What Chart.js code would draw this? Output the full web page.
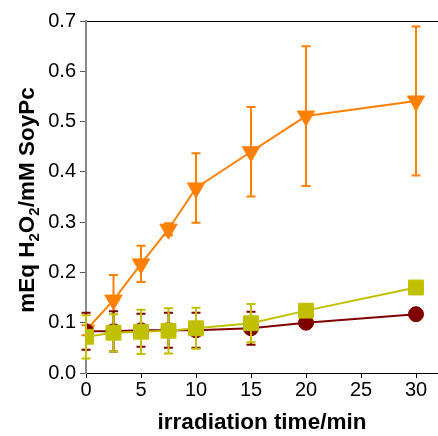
<!DOCTYPE html>
<html lang="en">
<head>
    <meta charset="UTF-8">
    <title>H2O2 vs irradiation time</title>
    <script src="https://cdn.jsdelivr.net/npm/chart.js@4.4.0/dist/chart.umd.min.js"></script>
    <style>
        html, body { margin: 0; padding: 0; background: #fff; }
        .chart-container { width: 438px; height: 436px; position: relative; }
    </style>
</head>
<body>
    <div class="chart-container">
        <canvas id="chart"></canvas>
    </div>

    <script>
        // Values
        const times = [0, 2.5, 5, 7.5, 10, 15, 20, 30];

        const orangeValues = [0.085, 0.145, 0.217, 0.286, 0.368, 0.440, 0.511, 0.541];
        const orangeErrors = [0.010, 0.050, 0.036, 0.012, 0.069, 0.089, 0.139, 0.148];

        const redValues = [0.083, 0.083, 0.085, 0.085, 0.085, 0.089, 0.100, 0.117];
        const redErrors = [0.037, 0.040, 0.033, 0.035, 0.035, 0.033, 0.010, 0.005];

        const yellowValues = [0.072, 0.080, 0.082, 0.084, 0.089, 0.099, 0.124, 0.170];
        const yellowErrors = [0.043, 0.037, 0.044, 0.045, 0.041, 0.038, 0.008, 0.010];

        const xTicks = [0, 5, 10, 15, 20, 25, 30];
        const yTicks = [0.0, 0.1, 0.2, 0.3, 0.4, 0.5, 0.6, 0.7];

        const toPoints = (vals) => vals.map((v, i) => ({ x: times[i], y: v }));

        const FONT = "'Liberation Sans', Arial, sans-serif";

        // draws error bars for a dataset just before the dataset itself
        const errorBars = {
            id: "errorBars",
            beforeDatasetDraw(chart, args) {
                const ds = chart.data.datasets[args.index];
                if (!ds.errors) return;
                const ctx = chart.ctx;
                const xs = chart.scales.x, ys = chart.scales.y;
                ctx.save();
                ctx.strokeStyle = ds.borderColor;
                ctx.lineWidth = 2;
                ds.data.forEach((p, i) => {
                    const e = ds.errors[i];
                    const px = xs.getPixelForValue(p.x);
                    const top = ys.getPixelForValue(p.y + e);
                    const bot = ys.getPixelForValue(p.y - e);
                    ctx.beginPath();
                    ctx.moveTo(px, top); ctx.lineTo(px, bot);
                    ctx.moveTo(px - 4.5, top); ctx.lineTo(px + 4.5, top);
                    ctx.moveTo(px - 4.5, bot); ctx.lineTo(px + 4.5, bot);
                    ctx.stroke();
                });
                ctx.restore();
            }
        };

        // y axis title with subscripts
        const yTitle = {
            id: "yTitle",
            afterDraw(chart) {
                const ctx = chart.ctx;
                const parts = [
                    ["mEq H", false], ["2", true], ["O", false], ["2", true], ["/mM SoyPc", false]
                ];
                const big = "bold 22.5px " + FONT;
                const small = "bold 15px " + FONT;
                ctx.save();
                let total = 0;
                parts.forEach(([t, sub]) => {
                    ctx.font = sub ? small : big;
                    total += ctx.measureText(t).width;
                });
                ctx.translate(28, 200);
                ctx.rotate(-Math.PI / 2);
                ctx.fillStyle = "#000";
                ctx.textBaseline = "middle";
                let x = -total / 2;
                parts.forEach(([t, sub]) => {
                    ctx.font = sub ? small : big;
                    ctx.fillText(t, x, sub ? 7 : 0);
                    x += ctx.measureText(t).width;
                });
                ctx.restore();
            }
        };

        const ctx = document.getElementById("chart").getContext("2d");

        new Chart(ctx, {
            type: "line",
            data: {
                datasets: [
                    {
                        label: "Sample C",
                        data: toPoints(yellowValues),
                        errors: yellowErrors,
                        borderColor: "#c0c000",
                        backgroundColor: "#c0c000",
                        borderWidth: 2,
                        pointStyle: "rect",
                        pointRadius: 10.5,
                        pointBorderWidth: 1,
                        order: 0
                    },
                    {
                        label: "Sample B",
                        data: toPoints(redValues),
                        errors: redErrors,
                        borderColor: "#800000",
                        backgroundColor: "#800000",
                        borderWidth: 2,
                        pointStyle: "circle",
                        pointRadius: 7.5,
                        pointBorderWidth: 1,
                        order: 1
                    },
                    {
                        label: "Sample A",
                        data: toPoints(orangeValues),
                        errors: orangeErrors,
                        borderColor: "#ff8000",
                        backgroundColor: "#ff8000",
                        borderWidth: 2,
                        pointStyle: "triangle",
                        pointRotation: 180,
                        pointRadius: 10,
                        pointBorderWidth: 1,
                        order: 2
                    }
                ]
            },
            options: {
                responsive: true,
                maintainAspectRatio: false,
                animation: false,
                layout: { autoPadding: false, padding: { top: 21, right: 0, left: 0, bottom: 0 } },
                plugins: {
                    legend: { display: false },
                    tooltip: { enabled: false }
                },
                scales: {
                    x: {
                        type: "linear",
                        min: 0,
                        max: 32,
                        afterFit: (s) => { s.height = 63; s.paddingLeft = 0; s.paddingRight = 0; },
                        afterBuildTicks: (s) => { s.ticks = xTicks.map(v => ({ value: v })); },
                        ticks: {
                            color: "#000",
                            padding: 0,
                            font: { family: FONT, size: 20 }
                        },
                        grid: {
                            drawOnChartArea: false,
                            tickLength: 5,
                            tickColor: "#000"
                        },
                        border: { color: "#000", width: 1 },
                        title: {
                            display: true,
                            text: "irradiation time/min",
                            color: "#000",
                            padding: { top: 0, bottom: 0 },
                            font: { family: FONT, size: 22.5, weight: "bold" }
                        }
                    },
                    y: {
                        min: 0,
                        max: 0.7,
                        afterFit: (s) => { s.width = 86; s.paddingTop = 0; s.paddingBottom = 0; },
                        afterBuildTicks: (s) => { s.ticks = yTicks.map(v => ({ value: v })); },
                        ticks: {
                            color: "#000",
                            padding: 4,
                            callback: (v) => Number(v).toFixed(1),
                            font: { family: FONT, size: 20 }
                        },
                        grid: {
                            color: (c) => (c.tick && c.tick.value > 0.69) ? "#000" : "rgba(0,0,0,0)",
                            tickColor: "#555",
                            tickLength: 6,
                            lineWidth: 1
                        },
                        border: { color: "#888", width: 2 }
                    }
                }
            },
            plugins: [errorBars, yTitle]
        });
    </script>
</body>
</html>
